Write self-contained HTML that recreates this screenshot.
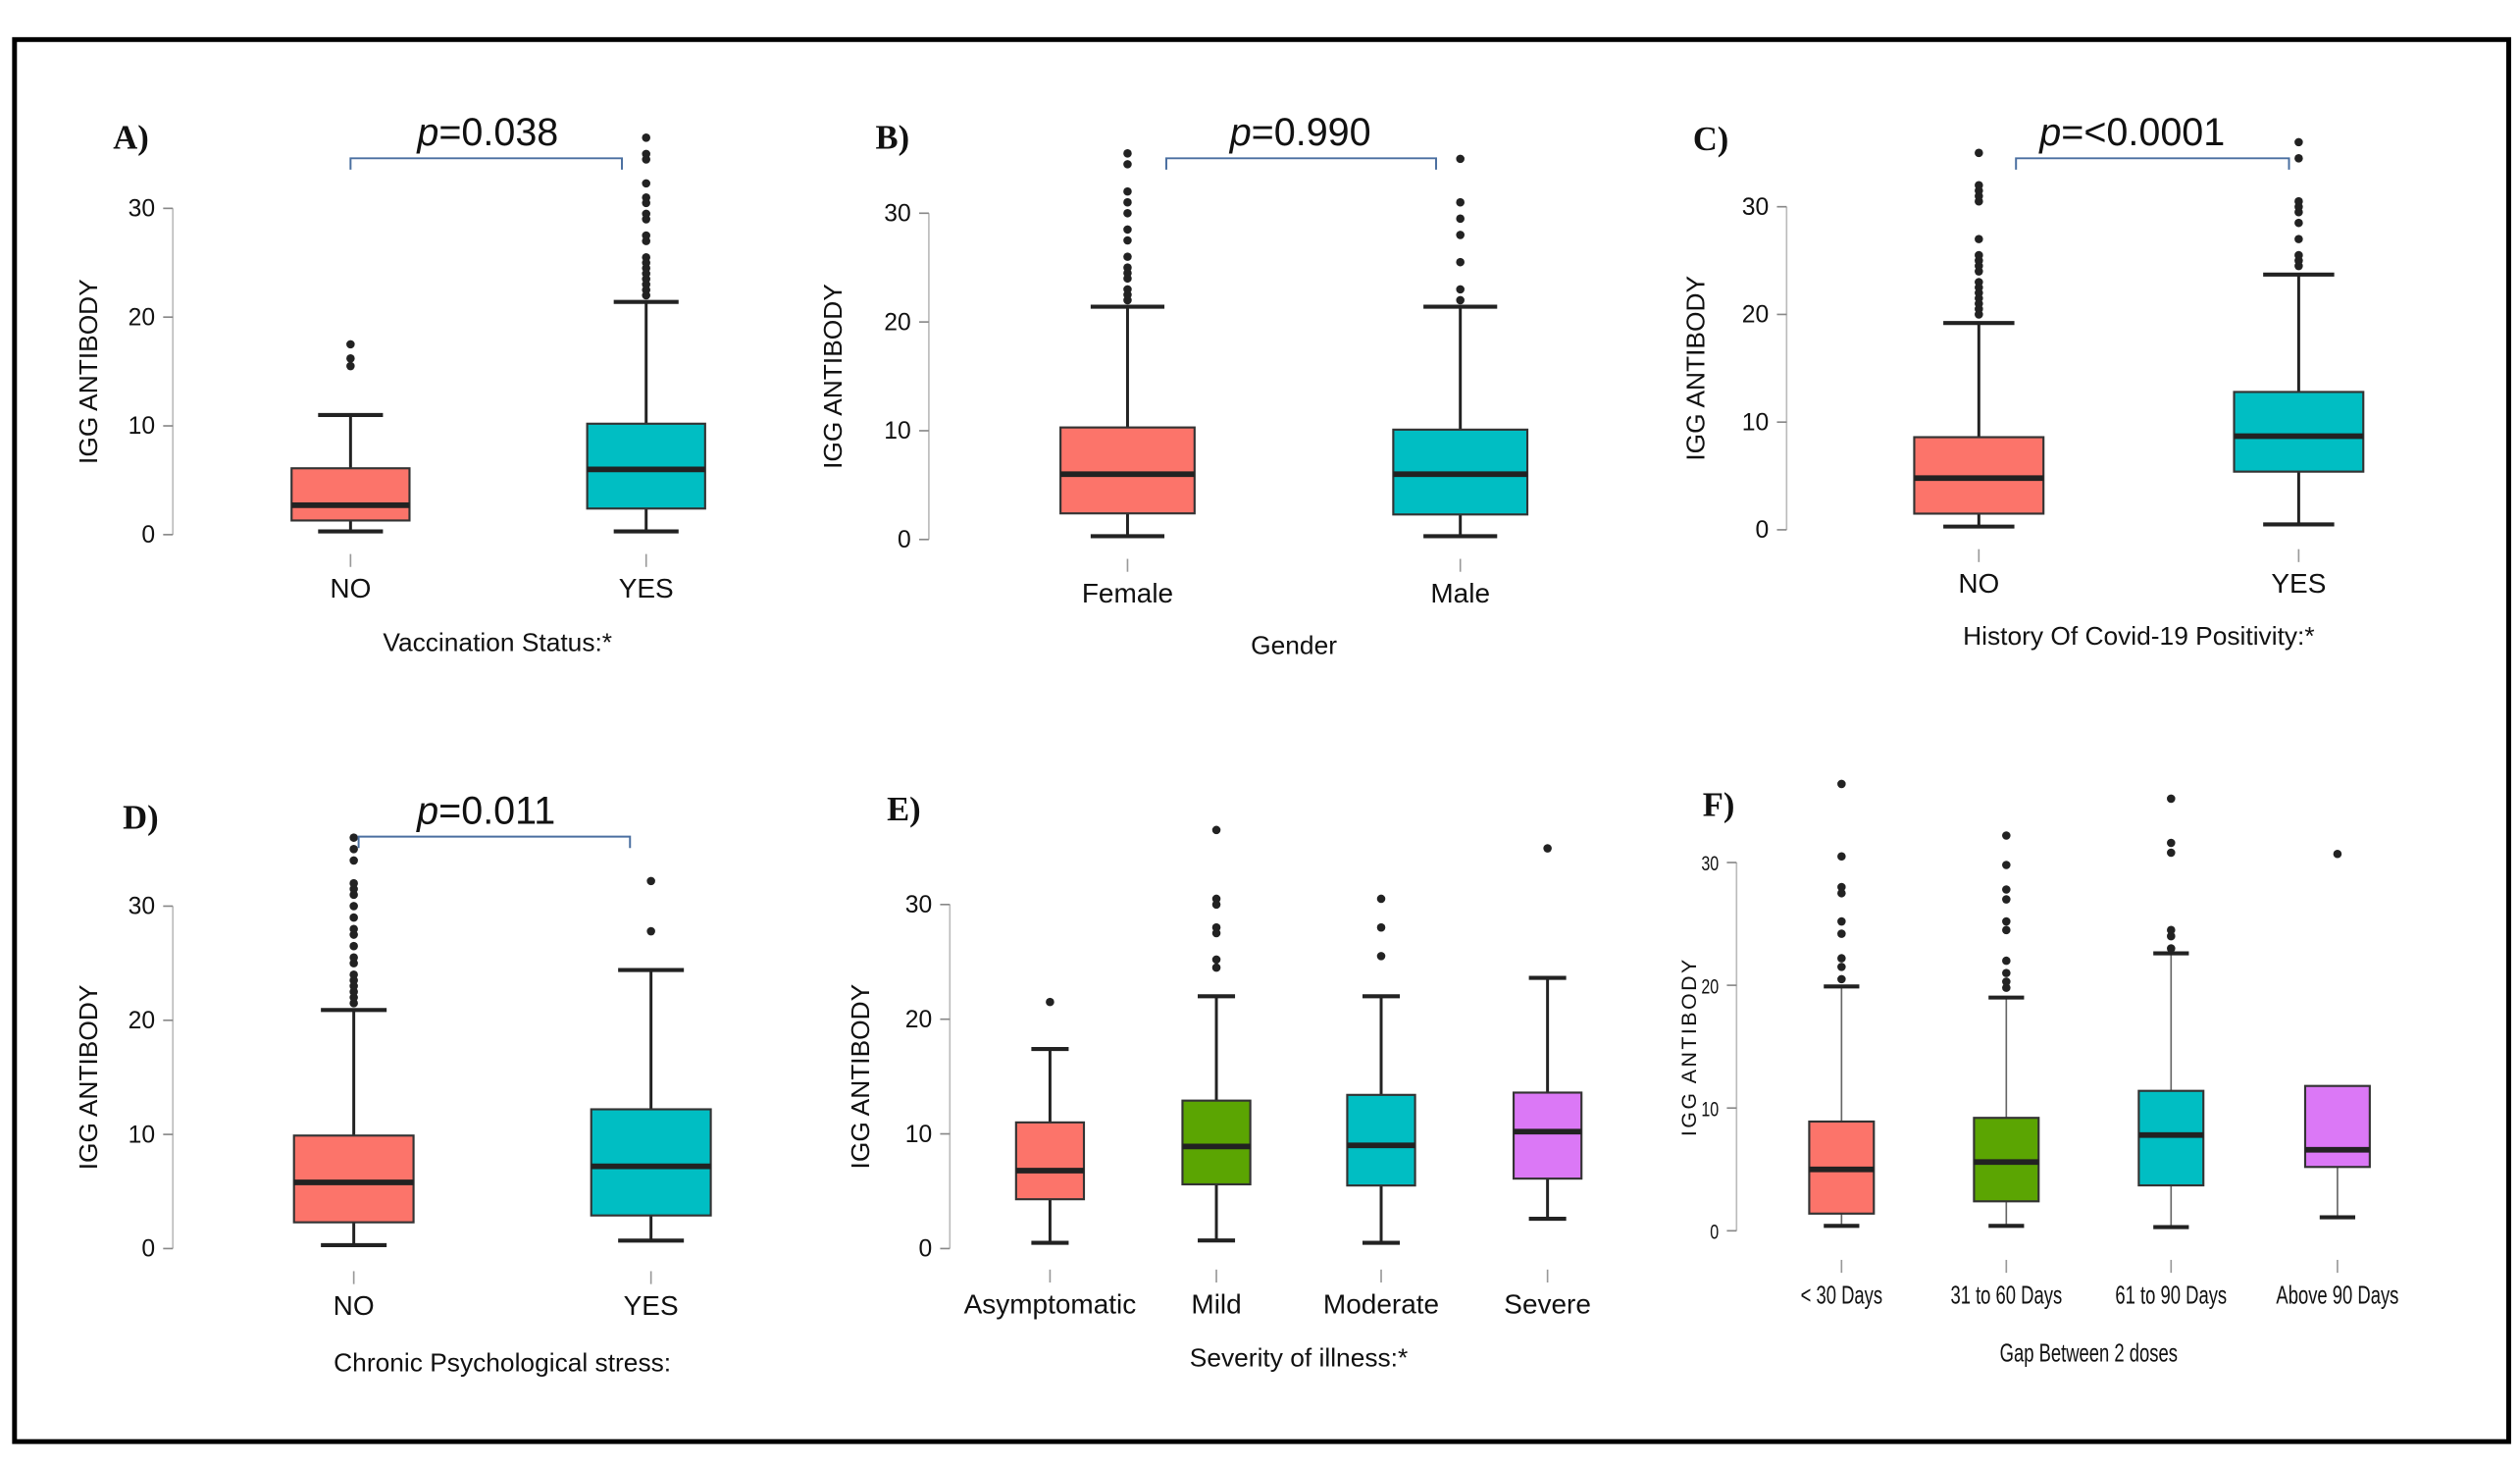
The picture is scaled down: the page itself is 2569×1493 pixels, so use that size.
<!DOCTYPE html>
<html><head><meta charset="utf-8"><style>
html,body{margin:0;padding:0;background:#fff;}
svg{display:block;}
text{font-family:"Liberation Sans",sans-serif;fill:#111;}
</style></head><body>
<svg id="fig" width="2569" height="1493" viewBox="0 0 1560 907" preserveAspectRatio="none" xmlns="http://www.w3.org/2000/svg">
<rect x="0" y="0" width="1560" height="907" fill="#fff"/>
<rect x="9" y="24.5" width="1544" height="868" fill="none" stroke="#000" stroke-width="3"/>
</svg>
<script>
// ---- data (IgG antibody values) ----
const catsA = ["NO","YES"];
const statsA = [[0.3,1.3,2.7,6.1,11.0],[0.3,2.4,6.0,10.2,21.4]];
const outA = [[15.5,16.2,17.5],[22,22.5,23,23.5,24,24.5,25,25.5,27,27.5,29,29.5,30.5,31,32.3,34.5,35,36.5]];
const catsB = ["Female","Male"];
const statsB = [[0.3,2.4,6.0,10.3,21.4],[0.3,2.3,6.0,10.1,21.4]];
const outB = [[22,22.5,23,24,24.5,25,26,27.5,28.5,30,31,32,34.5,35.5],[22,23,25.5,28,29.5,31,35]];
const catsC = ["NO","YES"];
const statsC = [[0.3,1.5,4.8,8.6,19.2],[0.5,5.4,8.7,12.8,23.7]];
const outC = [[20,20.5,21,21.5,22,22.5,23,24,24.5,25,25.5,27,30.5,31,31.5,32,35],[24.5,25,25.5,27,28.5,29.5,30,30.5,34.5,36]];
const catsD = ["NO","YES"];
const statsD = [[0.3,2.3,5.8,9.9,20.9],[0.7,2.9,7.2,12.2,24.4]];
const outD = [[21.5,22,22.5,23,23.5,24,25,25.5,26.5,27.5,28,29,30,31,31.5,32,34,35,36],[27.8,32.2]];
const catsE = ["Asymptomatic","Mild","Moderate","Severe"];
const statsE = [[0.5,4.3,6.8,11.0,17.4],[0.7,5.6,8.9,12.9,22.0],[0.5,5.5,9.0,13.4,22.0],[2.6,6.1,10.2,13.6,23.6]];
const outE = [[21.5],[24.5,25.2,27.5,28,30,30.5,36.5],[25.5,28,30.5],[34.9]];
const catsF = ["< 30 Days","31 to 60 Days","61 to 90 Days","Above 90 Days"];
const statsF = [[0.4,1.4,5.0,8.9,19.9],[0.4,2.4,5.6,9.2,19.0],[0.3,3.7,7.8,11.4,22.6],[1.1,5.2,6.6,11.8,11.8]];
const outF = [[20.5,21.5,22.2,24.2,25.2,27.5,28,30.5,36.4],[19.8,20.3,21,22,24.5,25.2,27,27.8,29.8,32.2],[23,24,24.5,30.8,31.6,35.2],[30.7]];
const yTicks = [0,10,20,30];
const pvals = ["0.038","0.990","<0.0001","0.011"];
const xTitles = ["Vaccination Status:*","Gender","History Of Covid-19 Positivity:*","Chronic Psychological stress:","Severity of illness:*","Gap Between 2 doses"];

const colors2 = ["#FC746A","#00BEC3"];
const colors4 = ["#FC746A","#5BA502","#00BEC3","#DB78F6"];
const NS="http://www.w3.org/2000/svg";
const svg=document.getElementById('fig');
function el(tag,attrs,parent){const e=document.createElementNS(NS,tag);for(const k in attrs)e.setAttribute(k,attrs[k]);(parent||svg).appendChild(e);return e;}

const panels=[
 {id:"a",letter:"A)",lx:70,ly:92,ax:107,y0:331,y30:129,xs:[217,400],bw:73,cats:catsA,stats:statsA,out:outA,p:0,br:[217,385,98],pt:[302,90],lab:370,tit:[308,403],yt:60,fs:15,cond:false},
 {id:"b",letter:"B)",lx:542,ly:92,ax:575,y0:334,y30:132,xs:[698,904],bw:83,cats:catsB,stats:statsB,out:outB,p:1,br:[722,889,98],pt:[805,90],lab:373,tit:[801,405],yt:521,fs:15,cond:false},
 {id:"c",letter:"C)",lx:1048,ly:93,ax:1106,y0:328,y30:128,xs:[1225,1423],bw:80,cats:catsC,stats:statsC,out:outC,p:2,br:[1248,1417,98],pt:[1320,90],lab:367,tit:[1324,399],yt:1055,fs:15,cond:false},
 {id:"d",letter:"D)",lx:76,ly:513,ax:107,y0:773,y30:561,xs:[219,403],bw:74,cats:catsD,stats:statsD,out:outD,p:3,br:[222,390,518],pt:[301,510],lab:814,tit:[311,849],yt:60,fs:15,cond:false},
 {id:"e",letter:"E)",lx:549,ly:508,ax:588,y0:773,y30:560,xs:[650,753,855,958],bw:42,cats:catsE,stats:statsE,out:outE,p:-1,lab:813,tit:[804,846],yt:538,fs:15,cond:false},
 {id:"f",letter:"F)",lx:1054,ly:505,ax:1075,y0:762,y30:534,xs:[1140,1242,1344,1447],bw:40,cats:catsF,stats:statsF,out:outF,p:-1,lab:807,tit:[1293,843],yt:1050,fs:13,cond:true}
];

panels.forEach((P,pi)=>{
 const g=el('g',{});
 
 
 const yS=v=>P.y0+(P.y30-P.y0)*v/30;
 const pal=P.cats.length===4?colors4:colors2;
 const t=el('text',{x:P.lx,y:P.ly,'font-size':21,'font-weight':'bold',style:'font-family:"Liberation Serif",serif'},g);
 t.textContent=P.letter;
 
 
 const ax=el('line',{x1:P.ax,x2:P.ax,y1:yS(0),y2:yS(30),stroke:'#bbb','stroke-width':1},g);
 
 
 yTicks.forEach(v=>{
  el('line',{x1:P.ax-6,x2:P.ax,y1:yS(v),y2:yS(v),stroke:'#888','stroke-width':1},g);
  const tt=el('text',{x:P.ax-11,y:yS(v)+5,'font-size':P.fs,'text-anchor':'end'},g);
  if(P.cond)tt.setAttribute('transform','translate('+(P.ax-11)+' 0) scale(0.75 1) translate('+(-(P.ax-11))+' 0)');
  tt.textContent=v;
  
  
 });
 const ym=(yS(0)+yS(30))/2;
 const yt=el('text',{x:P.yt,y:ym,'font-size':P.cond?13:16,'text-anchor':'middle',transform:'rotate(-90 '+P.yt+' '+ym+')','letter-spacing':P.cond?1.5:0},g);
 yt.textContent="IGG ANTIBODY";
 
 
 P.cats.forEach((c,i)=>{
  const s=P.stats[i],x=P.xs[i],w=P.bw,col=pal[i];
  const bg=el('g',{},g);
  
  
  const sw=P.cond?1:1.8, cw=w*0.55;
  el('line',{x1:x,x2:x,y1:yS(s[0]),y2:yS(s[1]),stroke:P.cond?'#666':'#222','stroke-width':sw},bg);
  el('line',{x1:x,x2:x,y1:yS(s[3]),y2:yS(s[4]),stroke:P.cond?'#666':'#222','stroke-width':sw},bg);
  el('line',{x1:x-cw/2,x2:x+cw/2,y1:yS(s[0]),y2:yS(s[0]),stroke:'#222','stroke-width':2.5},bg);
  if(s[4]>s[3])el('line',{x1:x-cw/2,x2:x+cw/2,y1:yS(s[4]),y2:yS(s[4]),stroke:'#222','stroke-width':2.5},bg);
  el('rect',{x:x-w/2,y:yS(s[3]),width:w,height:yS(s[1])-yS(s[3]),fill:col,stroke:'#333','stroke-width':1.3},bg);
  el('line',{x1:x-w/2,x2:x+w/2,y1:yS(s[2]),y2:yS(s[2]),stroke:'#222','stroke-width':3.5},bg);
  P.out[i].forEach(v=>{
   const o=el('circle',{cx:x,cy:yS(v),r:2.6,fill:'#222'},bg);
   
   
  });
  el('line',{x1:x,x2:x,y1:P.lab-27,y2:P.lab-19,stroke:'#999','stroke-width':1},g);
  const lt=el('text',{x:x,y:P.lab,'font-size':P.cond?16:17,'text-anchor':'middle'},g);
  if(P.cond)lt.setAttribute('transform','translate('+x+' 0) scale(0.7 1) translate('+(-x)+' 0)');
  lt.textContent=c;
  
  
 });
 const xt=el('text',{x:P.tit[0],y:P.tit[1],'font-size':16,'text-anchor':'middle'},g);
 if(P.cond)xt.setAttribute('transform','translate('+P.tit[0]+' 0) scale(0.7 1) translate('+(-P.tit[0])+' 0)');
 xt.textContent=xTitles[pi];
 
 
 if(P.p>=0){
  const b=P.br;
  const br=el('path',{d:'M'+b[0]+' '+(b[2]+7)+'V'+b[2]+'H'+b[1]+'V'+(b[2]+7),fill:'none',stroke:'#4a6fa0','stroke-width':1.2},g);
  
  
  const pt=el('text',{x:P.pt[0],y:P.pt[1],'font-size':24,'text-anchor':'middle'},g);
  pt.innerHTML='<tspan font-style="italic">p</tspan>='+pvals[P.p].replace('<','&lt;');
  
  
 }
});
</script>
</body></html>
